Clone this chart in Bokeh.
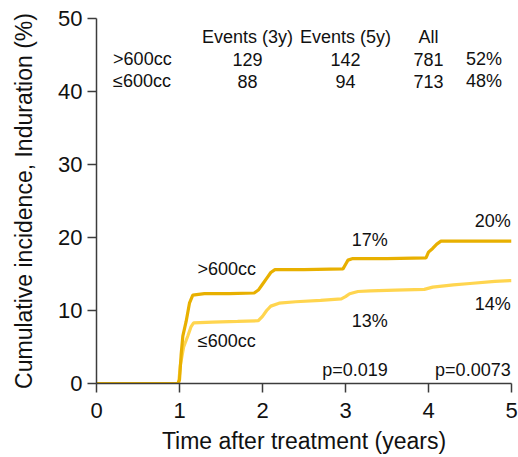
from bokeh.plotting import figure
from bokeh.models import Range1d, FixedTicker
from bokeh.core.properties import value
from bokeh.embed import file_html
from bokeh.resources import INLINE

# ---- data ----
t_large = [0, 0.98, 1.0, 1.02, 1.04, 1.08, 1.12, 1.16, 1.3, 1.6, 1.9, 1.95, 2.0, 2.05, 2.1, 2.15,
           2.5, 2.97, 3.0, 3.03, 3.08, 3.5, 3.97, 4.0, 4.05, 4.1, 4.15, 5.0]
v_large = [0, 0, 0.5, 4.0, 6.5, 8.5, 11.0, 12.1, 12.3, 12.3, 12.4, 12.8, 13.6, 14.4, 15.2, 15.6,
           15.6, 15.7, 16.3, 16.9, 17.1, 17.1, 17.2, 18.0, 18.5, 19.1, 19.5, 19.5]

t_small = [0, 0.99, 1.01, 1.05, 1.1, 1.14, 1.17, 1.4, 1.7, 1.95, 2.0, 2.05, 2.1, 2.2, 2.4, 2.7,
           2.95, 3.0, 3.05, 3.15, 3.3, 3.6, 3.95, 4.05, 4.3, 4.5, 4.8, 5.0]
v_small = [0, 0, 2.5, 5.0, 6.5, 7.8, 8.3, 8.4, 8.5, 8.6, 9.2, 10.0, 10.6, 11.0, 11.2, 11.4,
           11.6, 11.9, 12.3, 12.6, 12.7, 12.8, 12.9, 13.2, 13.5, 13.7, 14.0, 14.1]

x_ticks = [0, 1, 2, 3, 4, 5]
y_ticks = [0, 10, 20, 30, 40, 50]

table_header = ["Events (3y)", "Events (5y)", "All"]
row_labels = [">600cc", "\u2264600cc"]
events_3y = ["129", "88"]
events_5y = ["142", "94"]
all_n = ["781", "713"]
share = ["52%", "48%"]

curve_labels = [">600cc", "\u2264600cc"]
pct_3y = ["17%", "13%"]
pct_5y = ["20%", "14%"]
p_values = ["p=0.019", "p=0.0073"]

c_large = "#E8B000"
c_small = "#FFD54F"
FONT = "Liberation Sans"

p = figure(width=518, height=457, output_backend="svg", toolbar_location=None,
           x_range=Range1d(0, 5), y_range=Range1d(0, 50),
           min_border_left=96, min_border_right=7, min_border_top=18, min_border_bottom=74)
p.outline_line_color = None
p.xgrid.visible = False
p.ygrid.visible = False
p.background_fill_color = "white"

for ax, ticks in ((p.xaxis[0], x_ticks), (p.yaxis[0], y_ticks)):
    ax.ticker = FixedTicker(ticks=ticks)
    ax.minor_tick_line_color = None
    ax.major_tick_in = 0
    ax.major_tick_out = 9
    ax.axis_line_color = "#3c3c3c"
    ax.axis_line_width = 1.5
    ax.major_tick_line_color = "#3c3c3c"
    ax.major_tick_line_width = 1.5
    ax.major_label_text_font = FONT
    ax.major_label_text_font_size = "22px"
    ax.major_label_text_color = "#111111"
    ax.axis_label_text_font = FONT
    ax.axis_label_text_font_size = "23px"
    ax.axis_label_text_font_style = "normal"
    ax.axis_label_text_color = "#111111"

p.xaxis.major_label_standoff = 10
p.yaxis.major_label_standoff = 5
p.xaxis.axis_label = "Time after treatment (years)"
p.yaxis.axis_label = "Cumulative incidence, Induration (%)"
p.xaxis.axis_label_standoff = 7
p.yaxis.axis_label_standoff = 18

p.line(t_small, v_small, line_color=c_small, line_width=3.2)
p.line(t_large, v_large, line_color=c_large, line_width=3.2)

def txt(x, y, s, align="center", size="18px"):
    p.text(x=[x], y=[y], text=[s], text_font=value(FONT), text_font_size=size,
           text_align=align, text_baseline="middle", text_color="#111111")

# table
hy, r1, r2 = 47.5, 44.4, 41.4
for cx, h in zip([1.82, 3.0, 4.0], table_header):
    txt(cx, hy, h)
for i, ry in enumerate([r1, r2]):
    txt(0.2, ry, row_labels[i], align="left")
    txt(1.82, ry, events_3y[i])
    txt(3.0, ry, events_5y[i])
    txt(4.0, ry, all_n[i])
    txt(4.67, ry, share[i])

# curve annotations
txt(1.57, 15.7, curve_labels[0])
txt(1.57, 5.8, curve_labels[1])
txt(3.51, 19.6, pct_3y[0], align="right")
txt(3.51, 8.6, pct_3y[1], align="right")
txt(4.99, 22.3, pct_5y[0], align="right")
txt(4.99, 10.9, pct_5y[1], align="right")
txt(3.51, 1.8, p_values[0], align="right")
txt(4.99, 1.8, p_values[1], align="right")

open("out.html", "w").write(file_html(p, INLINE))
